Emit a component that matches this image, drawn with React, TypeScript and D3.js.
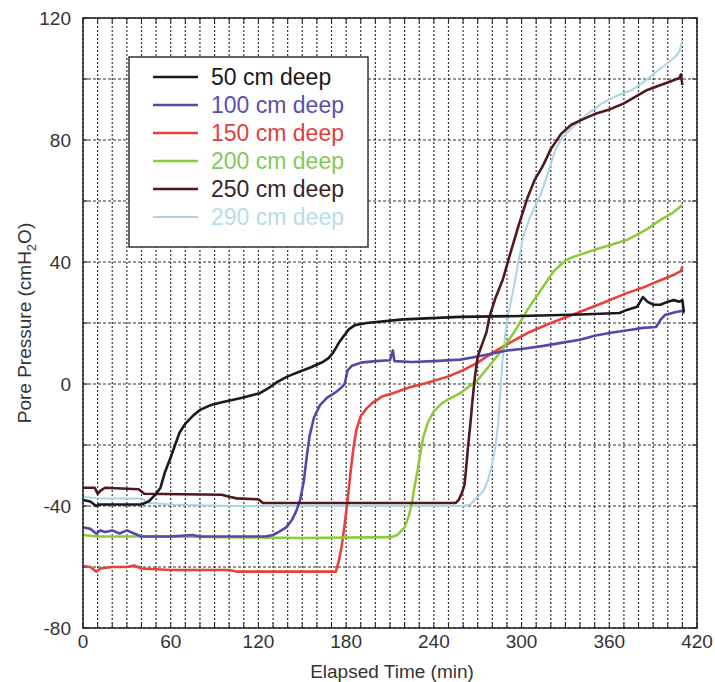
import React from "react";
import * as d3 from "d3";

const xTicks = [0, 60, 120, 180, 240, 300, 360, 420];
const yTicks = [-80, -40, 0, 40, 80, 120];
const xGrid = d3.range(0, 421, 10);
const yGrid = d3.range(-80, 121, 20);

const depth50: [number, number][] = [
  [0, -38], [5, -38.5], [9, -40], [11, -39.5], [20, -39.5], [40, -39.5], [45, -38.5], [50, -36],
  [53, -34], [56, -29], [60, -24], [63, -20], [66, -16], [70, -13], [75, -10.5], [80, -8.5],
  [87, -7], [95, -6], [109, -4.5], [121, -3], [128, -1], [133, 0.7], [140, 2.5], [148, 4],
  [156, 5.5], [164, 7.2], [168, 8.5], [171, 10.2], [175, 13.5], [178, 15.5], [182, 18],
  [186, 19.3], [194, 20], [219, 21.2], [258, 22], [300, 22.3], [340, 22.8], [367, 23.3],
  [372, 24.3], [379, 25.3], [383, 28.5], [386, 27], [390, 26], [395, 26], [400, 27],
  [404, 27.5], [408, 27], [410, 27.5], [411, 23.6],
];
const depth100: [number, number][] = [
  [0, -47], [5, -47.5], [9, -49], [12, -48], [15, -48.5], [20, -48], [25, -49], [30, -48],
  [35, -49], [40, -50], [60, -50], [75, -49.5], [80, -50], [125, -50], [130, -49.5],
  [134, -48.5], [139, -47], [143, -44.5], [146, -41.5], [148.5, -38], [151, -32], [153, -24],
  [155, -17], [158, -11], [162, -7], [167, -4.5], [172, -3], [176, -1.5], [179, 0], [181, 4.5],
  [184, 6], [190, 7], [200, 7.5], [210, 7.8], [212, 11], [213, 7.5], [225, 7.2], [240, 7.5],
  [258, 8], [270, 9], [280, 10], [290, 11], [300, 11.5], [315, 12.5], [326, 13.4], [340, 14.5],
  [350, 15.8], [360, 16.7], [375, 17.8], [383, 18.4], [392, 18.7], [395, 21], [398, 22.6],
  [405, 23.5], [410, 24], [411, 23],
];
const depth150: [number, number][] = [
  [0, -59.7], [5, -60], [9, -61.5], [12, -60.5], [20, -60], [30, -60], [35, -59.5], [40, -60.5],
  [60, -61], [100, -61], [105, -61.5], [173, -61.5], [175, -58], [177, -53], [179, -46],
  [181, -38], [183, -29], [185, -21], [187, -15], [190, -10.5], [194, -8], [198, -6.2],
  [205, -4], [212, -3], [224, -1], [235, 0.3], [250, 2.5], [260, 4.5], [270, 7], [280, 10.2],
  [290, 13], [304, 16.7], [320, 20], [338, 23.3], [355, 26.5], [372, 29.8], [385, 32],
  [395, 34], [405, 36], [409, 37], [410, 38.5],
];
const depth200: [number, number][] = [
  [0, -49.5], [10, -50], [50, -50], [150, -50.5], [211, -50.2], [215, -49.5], [220, -47],
  [223, -43], [225, -39], [227, -33], [229, -28], [231, -22], [233, -17], [236, -12.5],
  [240, -9], [245, -6.5], [250, -5], [258, -3], [265, -0.5], [270, 1.3], [278, 6], [285, 10.2],
  [295, 17], [304, 24.3], [312, 30], [322, 37], [330, 40.5], [335, 41.6], [350, 44],
  [372, 47.2], [385, 50.5], [395, 53.8], [403, 56], [410, 58.7],
];
const depth250: [number, number][] = [
  [0, -34], [8, -34], [10, -36], [12, -35], [15, -34], [38, -34.5], [42, -36], [95, -36.3],
  [100, -37], [105, -37.5], [120, -37.8], [123, -39], [255, -39], [257, -38], [259, -36],
  [261, -33], [262, -28], [263.5, -20], [265, -13], [266.5, -5], [268, 2], [270, 9], [276, 17],
  [278, 22], [282, 28], [287, 34], [293, 44], [298, 52], [304, 61], [309, 67], [314, 71],
  [320, 77], [327, 82], [334, 85], [341, 86.6], [350, 88.5], [359, 89.8], [370, 92],
  [386, 96.4], [398, 98.5], [408, 100.3], [409, 101.5], [410, 98],
];
const depth290: [number, number][] = [
  [0, -37], [10, -37.5], [40, -37.5], [45, -39], [60, -39.5], [100, -40], [260, -40],
  [265, -39.5], [270, -37], [274, -35], [277, -31.5], [280, -26], [282, -21], [284, -13],
  [285.5, -3], [287, 8], [289, 17], [291, 23], [294, 30], [297, 38], [301, 48], [306, 55],
  [313, 62], [318, 69], [323, 76.7], [328, 81], [334.5, 84], [345, 88.5], [355, 92],
  [365, 94.5], [375.5, 96.4], [385, 99.5], [391, 102], [398, 104.5], [405, 107.2], [408, 109],
  [410, 112.8],
];

const seriesNames = ["50 cm deep", "100 cm deep", "150 cm deep", "200 cm deep", "250 cm deep", "290 cm deep"];
const seriesData = [depth50, depth100, depth150, depth200, depth250, depth290];
const seriesColors = ["#1a1a1a", "#5548aa", "#e8403a", "#8ccb3c", "#4e1a1e", "#a9d6e6"];
const textColors = ["#1a1a1a", "#5a50a8", "#e0403c", "#86c85a", "#3a2426", "#b8dcea"];

const FONT = "'Liberation Sans', Arial, sans-serif";

export default function App() {
  const W = 715, H = 682;
  const x = d3.scaleLinear().domain([0, 420]).range([83, 697]);
  const y = d3.scaleLinear().domain([-80, 120]).range([628, 18]);
  const line = d3.line<[number, number]>().x(d => x(d[0])).y(d => y(d[1]));
  const [x0, x1] = x.range();
  const [y0, y1] = y.range();

  const order = [5, 2, 3, 1, 4, 0];

  return (
    <svg width={W} height={H} style={{ position: "absolute", left: 0, top: 0, background: "#fff" }}>
      <rect x={0} y={0} width={W} height={H} fill="#fff" />
      {xGrid.map(t => (
        <line key={"gx" + t} x1={x(t)} x2={x(t)} y1={y1} y2={y0} stroke="#333" strokeWidth={1.2} strokeDasharray="2,2" />
      ))}
      {yGrid.map(v => (
        <line key={"gy" + v} x1={x0} x2={x1} y1={y(v)} y2={y(v)} stroke="#333" strokeWidth={1.2} strokeDasharray="3,2" />
      ))}
      {xGrid.map(t => (
        <g key={"tx" + t}>
          <line x1={x(t)} x2={x(t)} y1={y0} y2={y0 - 5} stroke="#222" />
          <line x1={x(t)} x2={x(t)} y1={y1} y2={y1 + 5} stroke="#222" />
        </g>
      ))}
      {yGrid.map(v => (
        <g key={"ty" + v}>
          <line x1={x0} x2={x0 + 5} y1={y(v)} y2={y(v)} stroke="#222" />
          <line x1={x1} x2={x1 - 5} y1={y(v)} y2={y(v)} stroke="#222" />
        </g>
      ))}
      {order.map(i => (
        <path key={"s" + i} d={line(seriesData[i]) || ""} fill="none" stroke={seriesColors[i]}
          strokeWidth={i === 5 ? 2 : 2.6} strokeLinejoin="round" />
      ))}
      <rect x={x0} y={y1} width={x1 - x0} height={y0 - y1} fill="none" stroke="#222" strokeWidth={1.5} />
      <rect x={129} y={57} width={239} height={190} fill="#fff" stroke="#333" strokeWidth={1.5} />
      {seriesNames.map((n, i) => (
        <g key={"lg" + i}>
          <line x1={153} x2={198} y1={77 + i * 28} y2={77 + i * 28} stroke={seriesColors[i]} strokeWidth={i === 5 ? 2 : 2.4} />
          <text x={211} y={85 + i * 28} fontFamily={FONT} fontSize={23} fill={textColors[i]}>{n}</text>
        </g>
      ))}
      {xTicks.map(t => (
        <text key={"xl" + t} x={x(t)} y={648} textAnchor="middle" fontFamily={FONT} fontSize={19} fill="#333">{t}</text>
      ))}
      {yTicks.map(v => (
        <text key={"yl" + v} x={71} y={y(v) + 7} textAnchor="end" fontFamily={FONT} fontSize={19} fill="#333">{v}</text>
      ))}
      <text x={392} y={678} textAnchor="middle" fontFamily={FONT} fontSize={19} fill="#333">Elapsed Time (min)</text>
      <text transform={`translate(31,${(y0 + y1) / 2}) rotate(-90)`} textAnchor="middle" fontFamily={FONT} fontSize={19} fill="#333">
        Pore Pressure (cmH<tspan fontSize={13} dy={5}>2</tspan><tspan dy={-5}>O)</tspan>
      </text>
    </svg>
  );
}
